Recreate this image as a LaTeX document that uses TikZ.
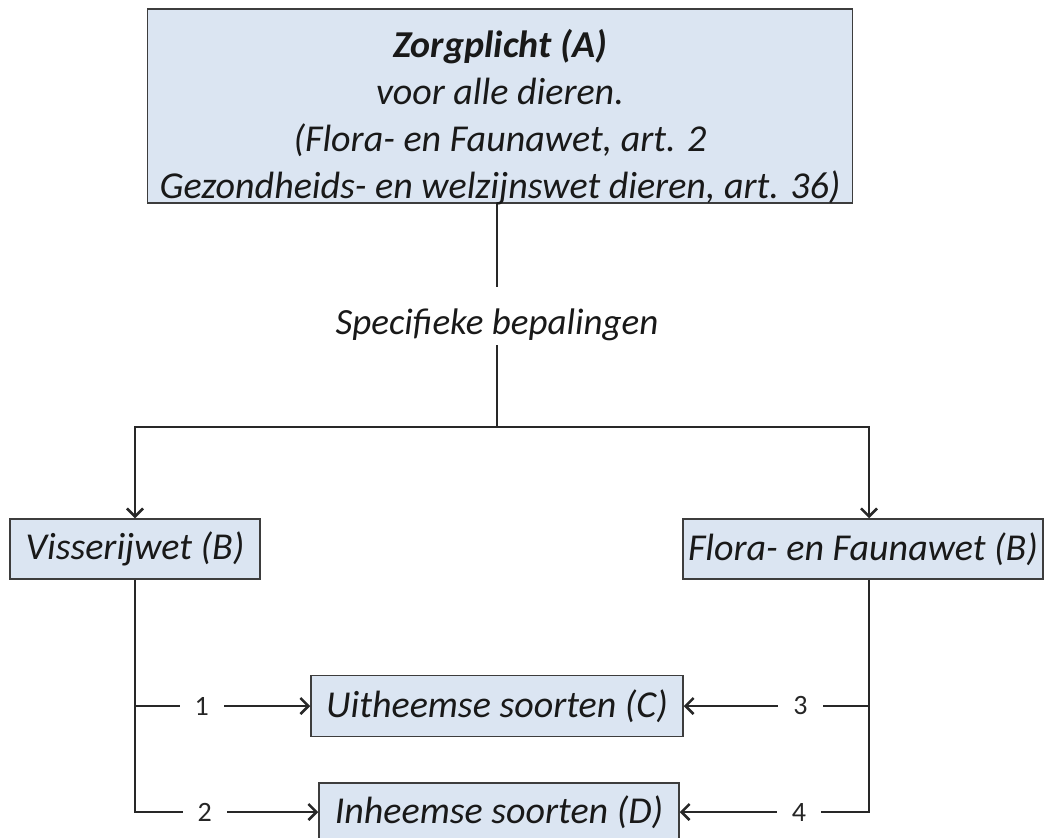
\documentclass[tikz,border=0pt]{standalone}
\usepackage{fontspec}
\setmainfont{Carlito}
\usetikzlibrary{arrows.meta}

\definecolor{boxblue}{RGB}{219,229,242}
\definecolor{lijn}{RGB}{40,40,40}

\tikzset{
  wetbox/.style={draw=lijn!90,line width=1.5pt,fill=boxblue,inner sep=0pt,
    font=\fontsize{38}{47}\selectfont\itshape,text=black!90},
  pijl/.style={-{Straight Barb[length=8pt,width=16pt,line width=2.5pt]}},
  num/.style={fill=white,inner sep=15pt,font=\fontsize{28}{28}\selectfont,text=black!85,pos=#1},
}

\begin{document}
\begin{tikzpicture}[x=1pt,y=-1pt,line width=2pt,draw=lijn]
\useasboundingbox (0,0) rectangle (1047,838);

%Zorgplicht bovenaan
\node[wetbox,minimum width=705,minimum height=194] (zorg) at (500,106) {};
\node[font=\fontsize{38}{47}\selectfont\itshape,text=black!90,align=center] (zorgtekst) at (500,117)
  {\textbf{Zorgplicht (A)}\\voor alle dieren.\\(Flora- en Faunawet, art. 2\\Gezondheids- en welzijnswet dieren, art. 36)};

\node[font=\fontsize{37}{40}\selectfont\itshape,text=black!90,inner xsep=0pt,inner ysep=21pt] (spec) at (497,325) {Specifieke bepalingen};

\coordinate (split) at (497,427);
\coordinate (links) at (135,427);
\coordinate (rechts) at (869,427);

%specifieke wetten
\node[wetbox,minimum width=250,minimum height=60] (visserij) at (135,549) {Visserijwet (B)};
\node[wetbox,minimum width=360,minimum height=60] (flora) at (863,549) {Flora- en Faunawet (B)};

\draw (zorg.south -| split) -- (spec.north);
\draw[shorten <=-18pt] (spec.south) -- (split);
\draw[pijl] (split) -- (links) -- (links |- visserij.north);
\draw[pijl] (split) -- (rechts) -- (rechts |- flora.north);

%soorten
\node[wetbox,minimum width=372,minimum height=61] (uitheems) at (497,706) {Uitheemse soorten (C)};
\node[wetbox,minimum width=360,minimum height=58] (inheems) at (499,812) {Inheemse soorten (D)};

\draw[pijl] (visserij.south) |- node[num=0.69]{1} (uitheems.west);
\draw[pijl] (visserij.south) |- node[num=0.69]{2} (inheems.west);
\draw[pijl] (flora.south -| rechts) |- node[num=0.685]{3} (uitheems.east);
\draw[pijl] (flora.south -| rechts) |- node[num=0.685]{4} (inheems.east);

\end{tikzpicture}
\end{document}
